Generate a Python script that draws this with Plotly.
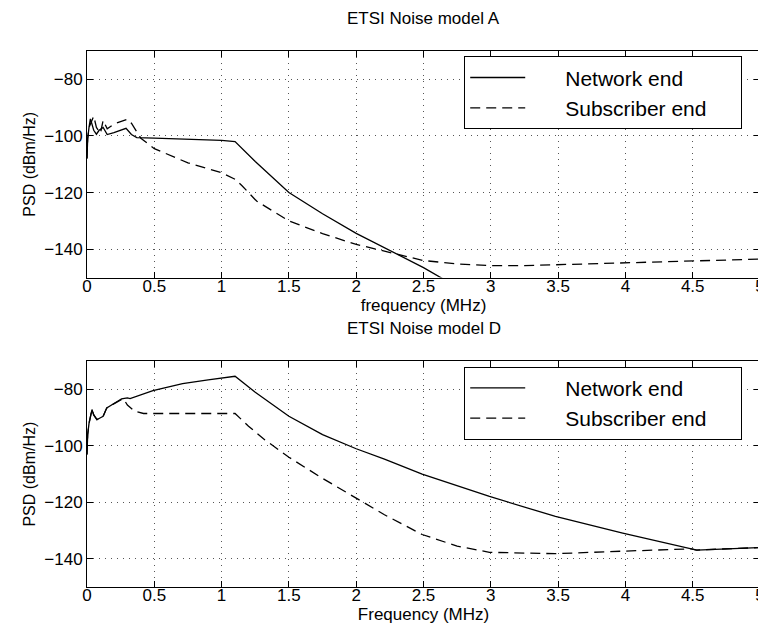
import plotly.graph_objects as go

# ---- Data: ETSI Noise model A ----
freq_A_net = [0, 0.005, 0.015, 0.025, 0.035, 0.05, 0.07, 0.09, 0.12, 0.15, 0.2, 0.25, 0.29,
              0.33, 0.37, 0.5, 0.75, 1.0, 1.1, 1.25, 1.5, 1.75, 2.0, 2.25, 2.5, 2.7]
psd_A_net = [-108, -101, -97, -94, -95.5, -98, -99.4, -98, -97, -99.5, -98.8, -98, -97.3,
             -99.5, -100.6, -100.8, -101.1, -101.6, -102, -109, -120, -127.5, -134.4, -140.5, -146.5, -152]

freq_A_sub = [0, 0.005, 0.015, 0.03, 0.05, 0.07, 0.1, 0.12, 0.15, 0.2, 0.25, 0.3, 0.33, 0.36,
              0.4, 0.5, 0.75, 1.0, 1.1, 1.15, 1.26, 1.5, 1.75, 2.0, 2.3, 2.5, 2.75, 3.0, 3.25,
              3.5, 4.0, 4.5, 5.0]
psd_A_sub = [-108, -101, -97, -95, -93, -97, -99, -94.5, -97.5, -95.8, -95, -94.1, -95.5, -98,
             -100.8, -104.5, -109.5, -113, -115.3, -117.5, -123, -130, -134.5, -138.3, -141.8,
             -144, -145.2, -145.8, -145.8, -145.5, -144.8, -144.2, -143.5]

# ---- Data: ETSI Noise model D ----
freq_D_net = [0, 0.005, 0.015, 0.025, 0.037, 0.05, 0.074, 0.1, 0.12, 0.147, 0.2, 0.257, 0.3,
              0.32, 0.49, 0.71, 0.9, 1.1, 1.25, 1.5, 1.75, 2.0, 2.21, 2.49, 2.99, 3.48, 3.98,
              4.49, 4.53, 5.0]
psd_D_net = [-103, -96, -92, -89, -87.1, -89, -90.7, -90, -89.5, -86.5, -85, -83.3, -83,
             -83.2, -80.4, -77.9, -76.6, -75.3, -81, -89.5, -96, -101, -104.7, -110, -117.9,
             -125, -130.9, -136.5, -136.9, -136]

freq_D_sub = [0, 0.005, 0.015, 0.025, 0.037, 0.05, 0.074, 0.1, 0.12, 0.147, 0.2, 0.257, 0.27,
              0.3, 0.355, 0.42, 0.7, 1.0, 1.1, 1.2, 1.32, 1.5, 1.75, 2.0, 2.21, 2.49, 2.75,
              2.99, 3.48, 3.98, 4.49, 4.53, 5.0]
psd_D_sub = [-103, -96, -92, -89, -87.1, -89, -90.7, -90, -89.5, -86.5, -85, -83.3, -83.2,
             -85.5, -87.7, -88.5, -88.4, -88.3, -88.5, -93, -97.8, -104, -111.5, -118.5,
             -124.4, -131.4, -135.5, -137.7, -138.2, -137.3, -136.5, -136.9, -136]

x_ticks = [0, 0.5, 1, 1.5, 2, 2.5, 3, 3.5, 4, 4.5, 5]
y_ticks = [-140, -120, -100, -80]

NB = "\u00a0"
name_net = NB * 6 + "Network end"
name_sub = NB * 6 + "Subscriber end" + NB * 5

FONT = "Liberation Sans, Arial, Helvetica, sans-serif"
solid = dict(color="black", width=1.3)
dashed = dict(color="black", width=1.3, dash="10px,6px")

fig = go.Figure()
fig.add_trace(go.Scatter(x=freq_A_net, y=psd_A_net, mode="lines", line=solid,
                         name=name_net, xaxis="x", yaxis="y", legend="legend"))
fig.add_trace(go.Scatter(x=freq_A_sub, y=psd_A_sub, mode="lines", line=dashed,
                         name=name_sub, xaxis="x", yaxis="y", legend="legend"))
fig.add_trace(go.Scatter(x=freq_D_net, y=psd_D_net, mode="lines", line=solid,
                         name=name_net, xaxis="x2", yaxis="y2", legend="legend2"))
fig.add_trace(go.Scatter(x=freq_D_sub, y=psd_D_sub, mode="lines", line=dashed,
                         name=name_sub, xaxis="x2", yaxis="y2", legend="legend2"))

axis_common = dict(
    showline=True, linecolor="black", linewidth=1, mirror="ticks",
    ticks="inside", ticklen=6, tickcolor="black", tickwidth=1,
    showgrid=True, gridcolor="#555555", griddash="1px,5px", gridwidth=1,
    zeroline=False, tickfont=dict(family=FONT, size=17, color="black"),
    ticklabeloverflow="allow",
)
xaxis_common = dict(axis_common, ticklabelstandoff=-7)

legend_common = dict(xanchor="left", yanchor="top", bgcolor="white",
                     bordercolor="black", borderwidth=1, font=dict(size=21, family=FONT),
                     itemwidth=55, tracegroupgap=0)

fig.update_layout(
    width=766, height=625,
    margin=dict(l=79, r=9, t=43, b=46),
    paper_bgcolor="white", plot_bgcolor="white",
    font=dict(family=FONT, color="black"),
    xaxis=dict(xaxis_common, range=[0, 5], tickvals=x_ticks, anchor="y", domain=[0, 1],
               title=dict(text="frequency (MHz)", font=dict(size=17), standoff=3)),
    yaxis=dict(axis_common, range=[-150, -70], tickvals=y_ticks, anchor="x", domain=[0.5774, 1.0],
               title=dict(text="PSD (dBm/Hz)", font=dict(size=16), standoff=4)),
    xaxis2=dict(xaxis_common, range=[0, 5], tickvals=x_ticks, anchor="y2", domain=[0, 1],
                title=dict(text="Frequency (MHz)", font=dict(size=17), standoff=3)),
    yaxis2=dict(axis_common, range=[-150, -70], tickvals=y_ticks, anchor="x2", domain=[0, 0.4211],
                title=dict(text="PSD (dBm/Hz)", font=dict(size=16), standoff=4)),
    legend=dict(legend_common, x=0.5605, y=0.99),
    legend2=dict(legend_common, x=0.5605, y=0.411),
    annotations=[
        dict(text="ETSI Noise model A", x=0.5, xref="paper", y=1.0, yref="paper",
             yanchor="bottom", yshift=21, showarrow=False, font=dict(size=17, family=FONT)),
        dict(text="ETSI Noise model D", x=0.5, xref="paper", y=0.4211, yref="paper",
             yanchor="bottom", yshift=21, showarrow=False, font=dict(size=17, family=FONT)),
    ],
)

fig.write_html("out.html")
